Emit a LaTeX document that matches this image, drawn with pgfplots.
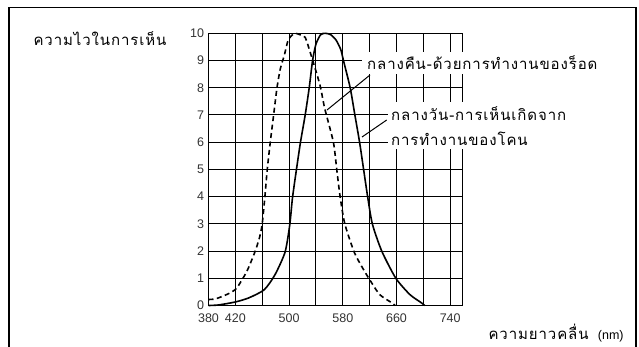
\documentclass[border=0pt]{standalone}
\usepackage{pgfplots}
\pgfplotsset{compat=1.18}
\usepackage{fontspec}
\setmainfont{Liberation Sans}
\newfontfamily\thaifont[Script=Thai, LetterSpace=6]{Loma}
\begin{document}
\begin{tikzpicture}[x=1pt,y=1pt]
\useasboundingbox (0,0) rectangle (639,346);
\draw[line width=1.8pt] (9,-2) -- (9,338.5) -- (636,338.5) -- (636,-2);
\begin{axis}[
  at={(208.5pt,40.5pt)}, anchor=south west,
  scale only axis, width=253.8pt, height=272.2pt,
  xmin=380, xmax=758, ymin=0, ymax=10,
  xtick={380,420,...,740},
  xticklabels={380,420,,500,,580,,660,,740},
  ytick={0,1,...,10},
  major tick length=0pt,
  grid=major,
  major grid style={black, line width=1.0pt},
  axis line style={black, line width=1.2pt},
  tick label style={font=\fontsize{12.5}{12.5}\selectfont, text=black!80},
  xticklabel style={yshift=-5pt},
  yticklabel style={xshift=-1pt},
  /pgf/number format/assume math mode=true,
  clip=false,
]
\addplot[black, line width=1.6pt, smooth, tension=0.4] coordinates {
(380,0) (395,0.02) (420,0.13) (440,0.28) (463,0.58) (479,1.13) (494,1.96)
(501,2.96) (505,3.94) (511,5.0) (517,6.0) (524,7.0) (530,8.0) (535,9.0)
(540,9.6) (547,9.95) (554,10) (562,9.95) (570,9.75) (577,9.4) (581,9.0)
(591,8.0) (598,7.0) (605,6.0) (611,5.0) (617,4.0) (624,3.0) (638,2.0)
(659,1.0) (680,0.4) (697,0.1) (702,0)
};
\addplot[black, line width=1.6pt, dash pattern=on 5pt off 3.5pt, smooth, tension=0.4] coordinates {
(380,0.22) (390,0.24) (400,0.33) (411,0.45) (422,0.64) (437,1.25) (449,1.96)
(456,2.5) (460,3.0) (464,4.0) (467.5,5.0) (472,6.0) (477,7.0) (482,8.0)
(487,8.7) (493,9.2) (498,9.7) (503,9.9) (509,10) (516,9.95) (524,9.85)
(534,9.1) (546,8.1) (553,7.25) (566,6.0) (571,5.0) (576,4.0) (583,3.0)
(597,1.96) (609,1.4) (620,0.95) (635,0.4) (653,0.1) (658,0)
};
\end{axis}
% labels with white background
\node[fill=white, anchor=west, inner xsep=5pt, inner ysep=4pt,
      font=\thaifont\fontsize{15}{15}\selectfont] at (362,283)
  {กลางคืน-ด้วยการทำงานของร็อด};
\node[fill=white, anchor=north west, inner xsep=3pt, inner ysep=4pt, align=left,
      font=\thaifont\fontsize{15}{25}\selectfont] at (388,244)
  {กลางวัน-การเห็นเกิดจาก\\การทำงานของโคน};
\node[anchor=center, font=\thaifont\fontsize{15}{15}\selectfont] at (100,307) {ความไวในการเห็น};
\node[anchor=west, font=\thaifont\fontsize{15}{15}\selectfont] at (485,13)
  {ความยาวคลื่น {\fontspec{Liberation Sans}\fontsize{12.5}{12.5}\selectfont\ (nm)}};
% pointer lines
\draw[black, line width=1pt] (370,271) -- (327,236);
\draw[black, line width=1pt] (386.7,226) -- (362,209);
\end{tikzpicture}
\end{document}
